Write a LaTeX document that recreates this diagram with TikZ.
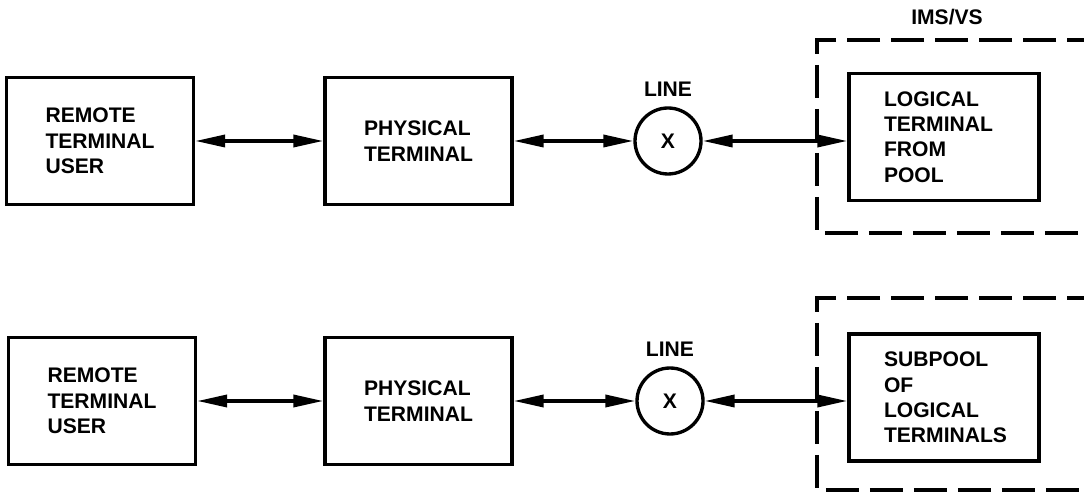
\documentclass[tikz,border=0pt]{standalone}
\usepackage{fontspec}
\setmainfont{Liberation Sans}
\usetikzlibrary{positioning, arrows.meta}

\begin{document}
\begin{tikzpicture}[
    x=0.02cm, y=-0.02cm,
    % GLOBAL CFG
    font=\bfseries\fontsize{12}{14.5}\selectfont,
    >={Triangle[length=0.6cm, width=0.24cm]},
    % Styles
    unit/.style={% For the terminal boxes
        rectangle,
        draw,
        line width=1.9pt,
        align=left,
        minimum width=3.74cm,
        minimum height=2.54cm,
        },
    pool/.style={% For the logical terminal boxes
        unit,
        minimum width=3.8cm,
        text width=2.4cm,
        },
    xline/.style={% For the line crossings
        circle,
        draw,
        line width=1.9pt,
        minimum size=1.32cm,
        inner sep=0pt,
        },
    lbl/.style={% For the LINE labels
        label distance=0.08cm,
        },
    region/.style={% For the IMS/VS border
        line width=1.9pt,
        dash pattern=on 0.66cm off 0.22cm,
        },
    link/.style={% Double arrows
        <->,
        line width=2pt,
        },
    ]
\useasboundingbox (0,0) rectangle (1084,492);

%Upper chain: one logical terminal from the pool
    \node [unit] (user1) at (100,141) {REMOTE\\TERMINAL\\USER};
    \node [unit] (phys1) at (418.5,141) {PHYSICAL\\TERMINAL};
    \node [xline, label={[lbl]above:LINE}] (x1) at (668,141) {X};
    \node [pool] (lt1) at (944,137) {LOGICAL\\TERMINAL\\FROM\\POOL};

    % IMS/VS border, cut by the page edge
    \node (imsvs) at (947,17) {IMS/VS};
    \draw [region] (1100,40) -| (817,233) -- (1100,233);

    \draw [link] (user1) -- (phys1);
    \draw [link] (phys1) -- (x1);
    \draw [link] (x1) -- (x1 -| lt1.west);

%Lower chain: a subpool of logical terminals
    \node [unit] (user2) at (102,401) {REMOTE\\TERMINAL\\USER};
    \node [unit] (phys2) at (418.5,401) {PHYSICAL\\TERMINAL};
    \node [xline, label={[lbl]above:LINE}] (x2) at (670,401) {X};
    \node [pool] (lt2) at (944,397.5) {SUBPOOL\\OF\\LOGICAL\\TERMINALS};

    \draw [region] (1100,298) -| (817,490) -- (1100,490);

    \draw [link] (user2) -- (phys2);
    \draw [link] (phys2) -- (x2);
    \draw [link] (x2) -- (x2 -| lt2.west);

\end{tikzpicture}
\end{document}
